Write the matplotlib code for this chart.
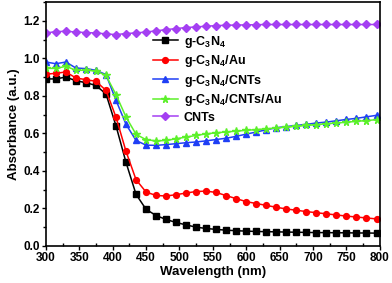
import numpy as np
import matplotlib
matplotlib.use('Agg')
import matplotlib.pyplot as plt
from matplotlib.ticker import MultipleLocator

plt.rcParams['font.family'] = ['Liberation Sans', 'DejaVu Sans']
plt.rcParams['font.weight'] = 'bold'
plt.rcParams['mathtext.fontset'] = 'custom'
plt.rcParams['mathtext.rm'] = 'Liberation Sans:bold'
plt.rcParams['mathtext.default'] = 'rm'

# wavelength grid (nm), one point every 15 nm
wavelength = np.arange(300, 800, 15)

g_c3n4 = [0.89, 0.89, 0.90, 0.88, 0.87, 0.855, 0.81, 0.64, 0.445, 0.275, 0.195, 0.162,
          0.141, 0.125, 0.112, 0.100, 0.093, 0.088, 0.084, 0.081, 0.079, 0.077, 0.076,
          0.075, 0.074, 0.073, 0.072, 0.071, 0.071, 0.070, 0.070, 0.069, 0.069, 0.068]
g_c3n4_au = [0.915, 0.92, 0.927, 0.895, 0.886, 0.877, 0.829, 0.686, 0.504, 0.353, 0.287,
             0.269, 0.266, 0.273, 0.282, 0.290, 0.292, 0.285, 0.268, 0.252, 0.236, 0.226,
             0.216, 0.206, 0.197, 0.190, 0.183, 0.177, 0.171, 0.165, 0.159, 0.154, 0.149, 0.144]
g_c3n4_cnts = [0.98, 0.971, 0.98, 0.948, 0.945, 0.936, 0.913, 0.776, 0.648, 0.562, 0.537,
               0.536, 0.540, 0.545, 0.550, 0.554, 0.560, 0.567, 0.574, 0.584, 0.596, 0.607,
               0.619, 0.630, 0.636, 0.642, 0.648, 0.655, 0.660, 0.667, 0.674, 0.680, 0.688, 0.696]
g_c3n4_cnts_au = [0.946, 0.946, 0.957, 0.936, 0.936, 0.932, 0.909, 0.806, 0.687, 0.595,
                  0.566, 0.560, 0.562, 0.571, 0.580, 0.589, 0.597, 0.603, 0.607, 0.612, 0.616,
                  0.620, 0.624, 0.628, 0.633, 0.637, 0.642, 0.646, 0.651, 0.655, 0.659, 0.664,
                  0.668, 0.673]
cnts = [1.135, 1.142, 1.144, 1.14, 1.137, 1.135, 1.13, 1.126, 1.132, 1.135, 1.14, 1.146,
        1.153, 1.158, 1.164, 1.167, 1.171, 1.174, 1.176, 1.177, 1.178, 1.179, 1.18, 1.18,
        1.18, 1.18, 1.18, 1.18, 1.18, 1.18, 1.18, 1.18, 1.18, 1.18]

series = [
    (g_c3n4, 'g-C$_3$N$_4$', '#000000', 's'),
    (g_c3n4_au, 'g-C$_3$N$_4$/Au', '#ff0000', 'o'),
    (g_c3n4_cnts, 'g-C$_3$N$_4$/CNTs', '#1f3ff5', '^'),
    (g_c3n4_cnts_au, 'g-C$_3$N$_4$/CNTs/Au', '#5cf02a', '*'),
    (cnts, 'CNTs', '#a43ff2', 'D'),
]

fig = plt.figure(figsize=(3.92, 2.83), dpi=100)
ax = fig.add_axes([0.117, 0.131, 0.852, 0.862])

for y, lab, c, m in series:
    ms = 5.5 if m == '*' else (3.8 if m == 'D' else 4.2)
    ax.plot(wavelength, y, color=c, marker=m, ms=ms, lw=1.1, label=lab)

ax.set_xlim(300, 800)
ax.set_ylim(0, 1.3)
ax.xaxis.set_major_locator(MultipleLocator(50))
ax.xaxis.set_minor_locator(MultipleLocator(25))
ax.yaxis.set_major_locator(MultipleLocator(0.2))
ax.yaxis.set_minor_locator(MultipleLocator(0.1))
ax.tick_params(axis='x', which='major', direction='out', length=3, width=1, labelsize=8.5, pad=1.5)
ax.tick_params(axis='x', which='minor', direction='in', length=2, width=1)
ax.tick_params(axis='y', which='major', direction='out', length=3, width=1, labelsize=8.5, pad=1.5)
ax.tick_params(axis='y', which='minor', direction='out', length=2, width=1)
ax.yaxis.set_major_formatter(plt.FormatStrFormatter('%.1f'))
for s in ax.spines.values():
    s.set_linewidth(1.2)

ax.set_xlabel('Wavelength (nm)', fontsize=9.5, fontweight='bold', labelpad=1)
ax.set_ylabel('Absorbance (a.u.)', fontsize=9.5, fontweight='bold', labelpad=2)

ax.legend(loc='upper left', bbox_to_anchor=(0.32, 0.87), frameon=False, fontsize=9,
          handlelength=2.0, handletextpad=0.5, labelspacing=0.28, borderpad=0,
          borderaxespad=0)

fig.savefig('out.png', dpi=100)
